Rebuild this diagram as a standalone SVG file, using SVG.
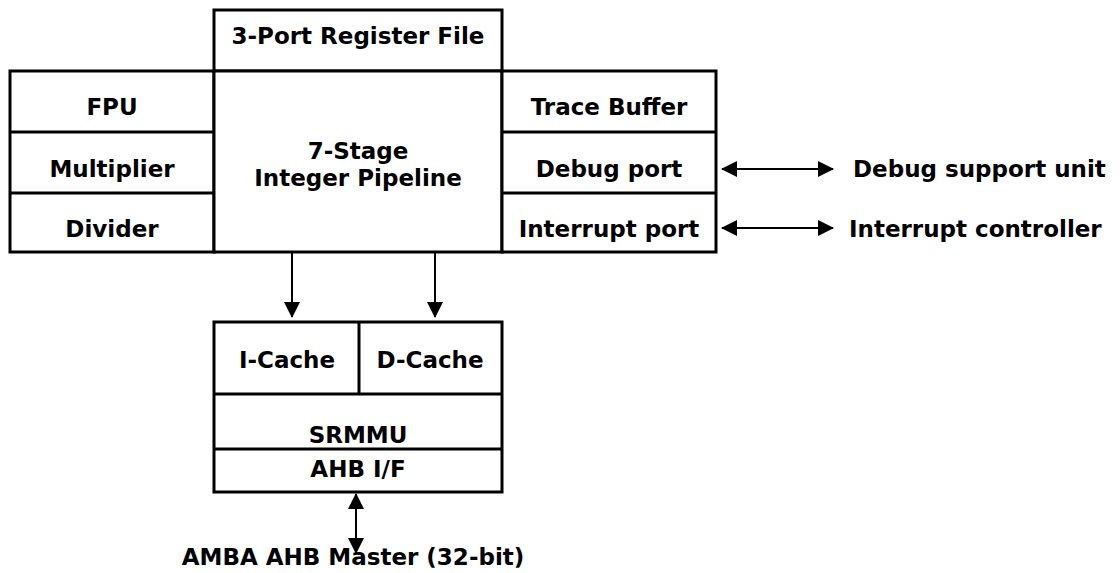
<svg xmlns="http://www.w3.org/2000/svg" width="1120" height="573" viewBox="0 0 1120 573">
  <defs>
    <marker id="head" viewBox="0 0 16 16" refX="15" refY="8" markerWidth="16" markerHeight="16" markerUnits="userSpaceOnUse" orient="auto-start-reverse">
      <path d="M0,0 L16,8 L0,16 Z" fill="#000"/>
    </marker>
    <style>
      .box { fill: #fff; stroke: #000; stroke-width: 3; }
      .sep { stroke: #000; stroke-width: 3; fill: none; }
      .lbl { font-family: "DejaVu Sans", "Liberation Sans", sans-serif; font-weight: bold; font-size: 23px; fill: #000; text-anchor: middle; }
      .ext { text-anchor: start; }
      .wire { stroke: #000; stroke-width: 2; fill: none; }
    </style>
  </defs>
  <rect width="1120" height="573" fill="#fff"/>

  <g id="register-file">
    <rect class="box" x="214" y="10" width="288" height="61"/>
    <text class="lbl" x="358" y="44">3-Port Register File</text>
  </g>

  <g id="left-units">
    <rect class="box" x="10" y="71" width="204" height="181"/>
    <line class="sep" x1="10" y1="132" x2="214" y2="132"/>
    <line class="sep" x1="10" y1="193" x2="214" y2="193"/>
    <text class="lbl" x="112" y="115">FPU</text>
    <text class="lbl" x="112" y="177">Multiplier</text>
    <text class="lbl" x="112" y="237">Divider</text>
  </g>

  <g id="pipeline">
    <rect class="box" x="214" y="71" width="288" height="181"/>
    <text class="lbl" x="358" y="159">7-Stage</text>
    <text class="lbl" x="358" y="186">Integer Pipeline</text>
  </g>

  <g id="right-units">
    <rect class="box" x="502" y="71" width="214" height="181"/>
    <line class="sep" x1="502" y1="132" x2="716" y2="132"/>
    <line class="sep" x1="502" y1="193" x2="716" y2="193"/>
    <text class="lbl" x="609" y="115">Trace Buffer</text>
    <text class="lbl" x="609" y="177">Debug port</text>
    <text class="lbl" x="609" y="237">Interrupt port</text>
  </g>

  <g id="debug-support-unit">
    <text class="lbl ext" x="853" y="177">Debug support unit</text>
  </g>

  <g id="interrupt-controller">
    <text class="lbl ext" x="849" y="237">Interrupt controller</text>
  </g>

  <g id="cache-mmu">
    <rect class="box" x="214" y="322" width="288" height="170"/>
    <line class="sep" x1="214" y1="394" x2="502" y2="394"/>
    <line class="sep" x1="359" y1="322" x2="359" y2="394"/>
    <line class="sep" x1="214" y1="449" x2="502" y2="449"/>
    <text class="lbl" x="287" y="368">I-Cache</text>
    <text class="lbl" x="430" y="368">D-Cache</text>
    <text class="lbl" x="358" y="443">SRMMU</text>
    <text class="lbl" x="358" y="477">AHB I/F</text>
  </g>

  <g id="amba-ahb">
    <text class="lbl" x="353" y="565">AMBA AHB Master (32-bit)</text>
  </g>

  <g id="connectors">
    <line class="wire" x1="292" y1="253" x2="292" y2="317" marker-end="url(#head)"/>
    <line class="wire" x1="435" y1="253" x2="435" y2="317" marker-end="url(#head)"/>
    <line class="wire" x1="722" y1="169" x2="833" y2="169" marker-start="url(#head)" marker-end="url(#head)"/>
    <line class="wire" x1="722" y1="228" x2="833" y2="228" marker-start="url(#head)" marker-end="url(#head)"/>
    <line class="wire" x1="356" y1="494" x2="356" y2="553" marker-start="url(#head)" marker-end="url(#head)"/>
  </g>
</svg>
